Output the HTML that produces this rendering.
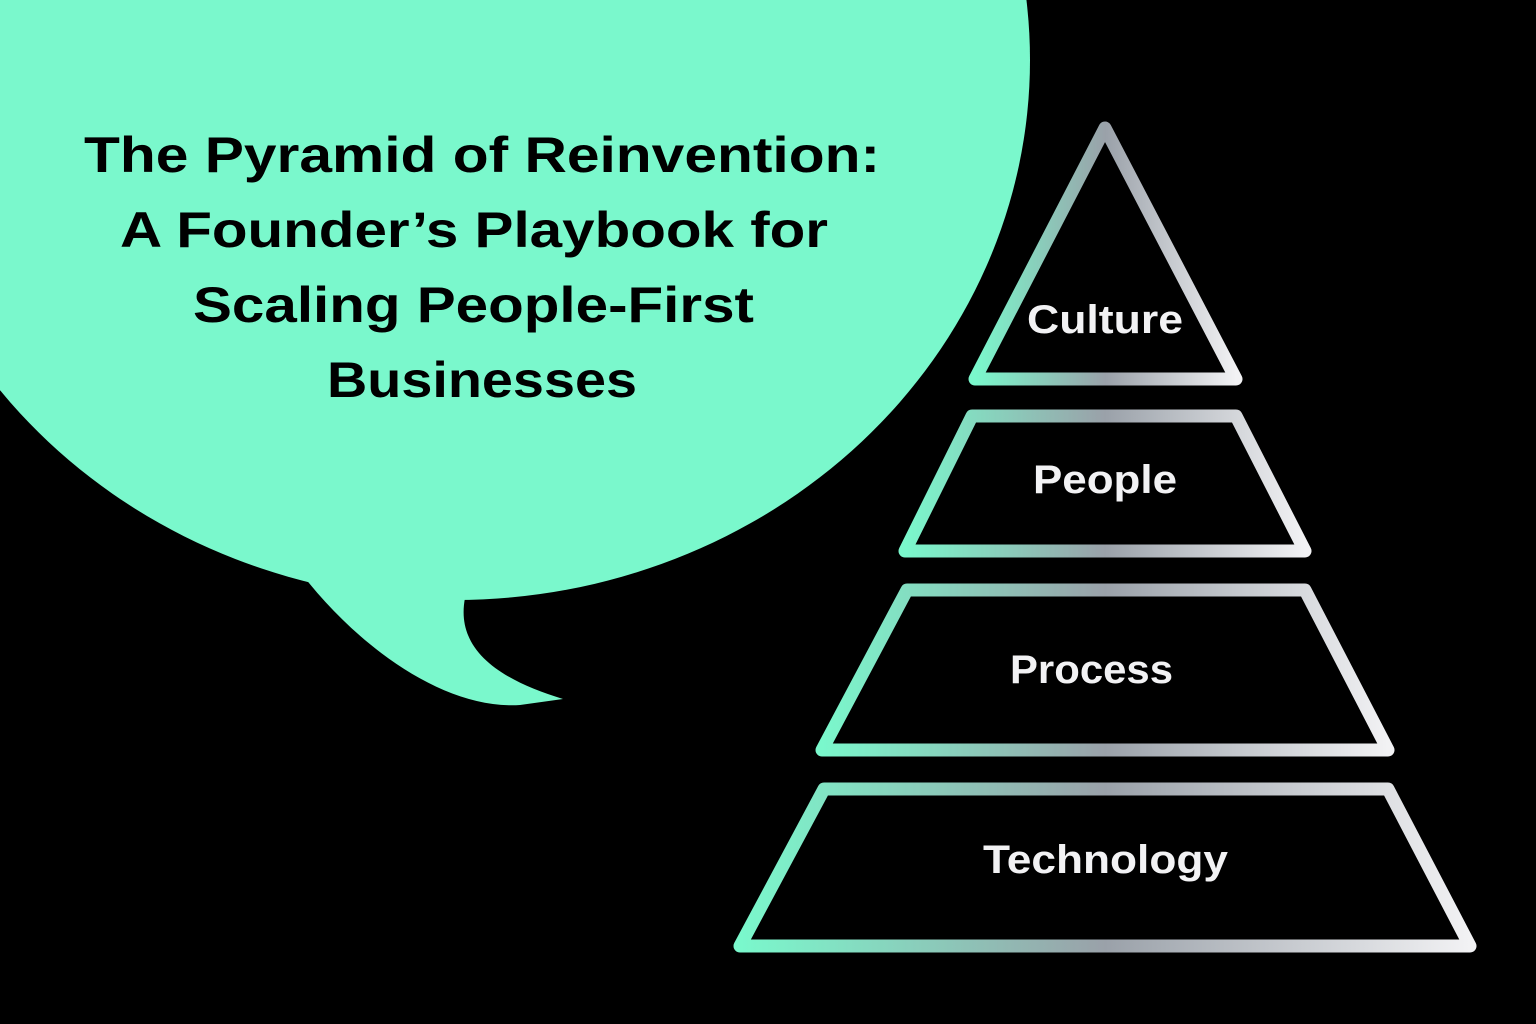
<!DOCTYPE html>
<html><head><style>
html,body{margin:0;padding:0;background:#000;width:1536px;height:1024px;overflow:hidden}
svg{display:block}
</style></head><body>
<svg width="1536" height="1024" viewBox="0 0 1536 1024" xmlns="http://www.w3.org/2000/svg">
<defs>
<linearGradient id="g1" gradientUnits="objectBoundingBox" x1="0" y1="0" x2="1" y2="0">
<stop offset="0" stop-color="#7af8cc"/><stop offset="0.5" stop-color="#9aa1a9"/><stop offset="1" stop-color="#f2f2f4"/>
</linearGradient>
</defs>
<rect width="1536" height="1024" fill="#000"/>
<ellipse cx="455" cy="60" rx="575" ry="540" fill="#7af8cc"/>
<path d="M295,565 C350,640 440,710 520,705 L563,699 C500,680 455,650 465,598 Z" fill="#7af8cc"/>
<g font-family="Liberation Sans, sans-serif" font-weight="bold" font-size="50" fill="#000" lengthAdjust="spacingAndGlyphs">
<text x="84" y="172" textLength="796" lengthAdjust="spacingAndGlyphs">The Pyramid of Reinvention:</text>
<text x="120" y="247" textLength="708" lengthAdjust="spacingAndGlyphs">A Founder’s Playbook for</text>
<text x="193" y="322" textLength="561" lengthAdjust="spacingAndGlyphs">Scaling People-First</text>
<text x="327" y="397" textLength="310" lengthAdjust="spacingAndGlyphs">Businesses</text>
</g>
<g fill="none" stroke="url(#g1)" stroke-width="13" stroke-linejoin="round">
<path d="M1105,128 L1236,379 L975,379 Z"/>
<path d="M972,416 L1236,416 L1305,551 L905,551 Z"/>
<path d="M907,590 L1305,590 L1388,750 L822,750 Z"/>
<path d="M824,789 L1388,789 L1470,946 L740,946 Z"/>
</g>
<g font-family="Liberation Sans, sans-serif" font-weight="bold" font-size="40" fill="#f2f2f4">
<text x="1027" y="333" textLength="156" lengthAdjust="spacingAndGlyphs">Culture</text>
<text x="1033" y="493" textLength="144" lengthAdjust="spacingAndGlyphs">People</text>
<text x="1010" y="683" textLength="163" lengthAdjust="spacingAndGlyphs">Process</text>
<text x="983" y="873" textLength="245" lengthAdjust="spacingAndGlyphs">Technology</text>
</g>
</svg>
</body></html>
